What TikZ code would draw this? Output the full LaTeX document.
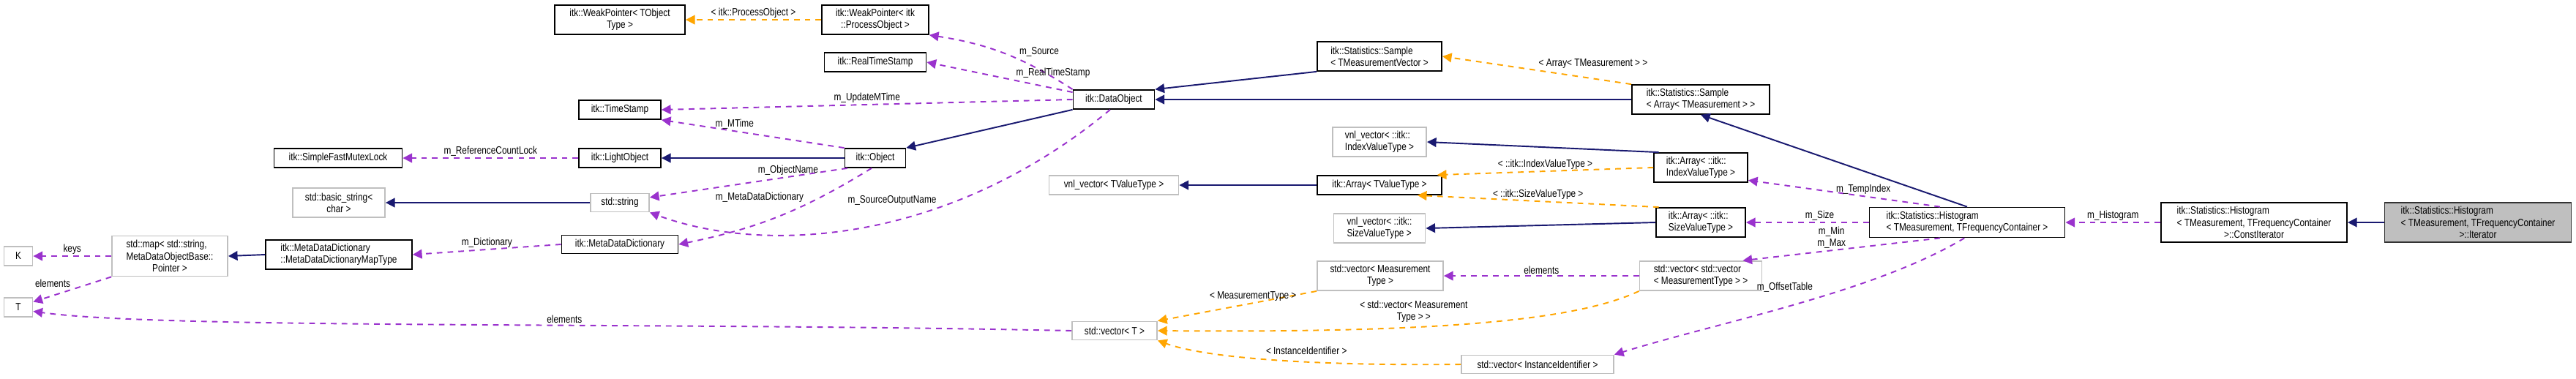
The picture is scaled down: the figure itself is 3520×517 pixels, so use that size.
\documentclass[tikz,border=0pt]{standalone}
\usepackage{fontspec}
\setmainfont{Liberation Sans}[FakeStretch=0.82]
\usetikzlibrary{arrows.meta}

\definecolor{inhcol}{HTML}{191970}
\definecolor{usecol}{HTML}{9A32CD}
\definecolor{tplcol}{HTML}{FFA500}
\definecolor{extcol}{HTML}{BFBFBF}

\tikzset{
  box/.style={draw, line width=0.5pt, inner sep=1pt, align=left,
    font=\fontsize{4.1}{4.6}\selectfont},
  cls/.style={box, draw=black},
  ext/.style={box, draw=extcol},
  cur/.style={box, draw=black!80, fill=extcol},
  inh/.style={draw=inhcol, line width=0.55pt, -{Triangle[length=3.6pt,width=3.6pt]}},
  use/.style={draw=usecol, line width=0.55pt, dashed, dash pattern=on 2.2pt off 2pt,
    -{Triangle[length=3.6pt,width=3.6pt]}},
  tpl/.style={draw=tplcol, line width=0.55pt, dashed, dash pattern=on 2.2pt off 2pt,
    -{Triangle[length=3.6pt,width=3.6pt]}},
  lbl/.style={font=\fontsize{4.1}{4.6}\selectfont, inner sep=0.5pt, align=center, text=black}
}

\begin{document}
\begin{tikzpicture}[x=0.01cm, y=-0.01cm]
  \useasboundingbox (0,0) rectangle (3520,517);

  % left part
  \node[cls, minimum width=1.78cm, minimum height=0.40cm] (wpobj) at (847,27) {itk::WeakPointer< TObject\\\hfil Type >};
  \node[cls, minimum width=1.46cm, minimum height=0.40cm] (wpproc) at (1196,27) {itk::WeakPointer< itk\\\hfil ::ProcessObject >};
  \node[cls, minimum width=1.39cm, minimum height=0.26cm] (rts) at (1196,85) {itk::RealTimeStamp};
  \node[cls, minimum width=1.12cm, minimum height=0.26cm] (ts) at (847,150) {itk::TimeStamp};
  \node[cls, minimum width=1.75cm, minimum height=0.26cm] (mutex) at (462,216) {itk::SimpleFastMutexLock};
  \node[cls, minimum width=1.12cm, minimum height=0.26cm] (light) at (847,216) {itk::LightObject};
  \node[cls, minimum width=0.83cm, minimum height=0.26cm] (object) at (1196,216) {itk::Object};
  \node[cls, minimum width=1.11cm, minimum height=0.26cm] (dataobj) at (1522,136) {itk::DataObject};
  \node[ext, minimum width=1.26cm, minimum height=0.40cm] (bstr) at (463,277) {std::basic\_string<\\\hfil char >};
  \node[ext, minimum width=0.80cm, minimum height=0.25cm] (str) at (847,277) {std::string};
  \node[cls, minimum width=1.59cm, minimum height=0.25cm] (mdd) at (847,334) {itk::MetaDataDictionary};
  \node[cls, minimum width=2.00cm, minimum height=0.40cm] (maptype) at (463,348) {itk::MetaDataDictionary\\::MetaDataDictionaryMapType};
  \node[ext, minimum width=1.58cm, minimum height=0.55cm] (stdmap) at (232,350) {std::map< std::string,\\\hfil MetaDataObjectBase::\hfil\\\hfil Pointer >};
  \node[ext, minimum width=0.39cm, minimum height=0.26cm] (K) at (25,350) {K};
  \node[ext, minimum width=0.39cm, minimum height=0.26cm] (T) at (25,420) {T};

  % middle part
  \node[cls, minimum width=1.70cm, minimum height=0.40cm] (sampvec) at (1885,77) {itk::Statistics::Sample\\< TMeasurementVector >};
  \node[cls, minimum width=1.88cm, minimum height=0.40cm] (samparr) at (2324,136) {itk::Statistics::Sample\\< Array< TMeasurement > >};
  \node[ext, minimum width=1.77cm, minimum height=0.26cm] (vnltv) at (1522,253) {vnl\_vector< TValueType >};
  \node[ext, minimum width=1.28cm, minimum height=0.40cm] (vnlidx) at (1885,194) {vnl\_vector< ::itk::\\IndexValueType >};
  \node[cls, minimum width=1.70cm, minimum height=0.26cm] (arrtv) at (1885,253) {itk::Array< TValueType >};
  \node[ext, minimum width=1.25cm, minimum height=0.40cm] (vnlsz) at (1885,312) {vnl\_vector< ::itk::\\SizeValueType >};
  \node[ext, minimum width=1.72cm, minimum height=0.40cm] (vecmt) at (1886,377) {std::vector< Measurement\\\hfil Type >};
  \node[cls, minimum width=1.28cm, minimum height=0.40cm] (arridx) at (2324,229) {itk::Array< ::itk::\\IndexValueType >};
  \node[cls, minimum width=1.22cm, minimum height=0.40cm] (arrsz) at (2324,304) {itk::Array< ::itk::\\SizeValueType >};
  \node[ext, minimum width=1.67cm, minimum height=0.40cm] (vecvec) at (2324,377) {std::vector< std::vector\\< MeasurementType > >};
  \node[ext, minimum width=1.16cm, minimum height=0.25cm] (vecT) at (1523,452) {std::vector< T >};
  \node[ext, minimum width=2.08cm, minimum height=0.25cm] (vecid) at (2101,498) {std::vector< InstanceIdentifier >};

  % right part
  \node[cls, minimum width=2.67cm, minimum height=0.41cm] (hist) at (2688,304) {itk::Statistics::Histogram\\< TMeasurement, TFrequencyContainer >};
  \node[cls, minimum width=2.54cm, minimum height=0.54cm] (citer) at (3080,304) {itk::Statistics::Histogram\\< TMeasurement, TFrequencyContainer\\\hfil >::ConstIterator\hfil};
  \node[cur, minimum width=2.55cm, minimum height=0.54cm] (iter) at (3386,304) {itk::Statistics::Histogram\\< TMeasurement, TFrequencyContainer\\\hfil >::Iterator\hfil};

  % inheritance
  \draw[inh] (dataobj.south west) -- (object.north east);
  \draw[inh] (object.west) -- (light.east);
  \draw[inh] (str.west) -- (bstr.east);
  \draw[inh] (maptype.west) -- (stdmap.east);
  \draw[inh] (sampvec.south west) -- (dataobj.north east);
  \draw[inh] (samparr.west |- dataobj.east) -- (dataobj.east);
  \draw[inh] (hist.north) -- (samparr.south);
  \draw[inh] (arridx.160) -- (vnlidx.east);
  \draw[inh] (arrsz.west) -- (vnlsz.east);
  \draw[inh] (arrtv.west) -- (vnltv.east);
  \draw[inh] (iter.west) -- (citer.east);

  % usage
  \draw[use] (dataobj.north west) to[bend right=12] node[lbl, pos=0.4, above right] {m\_Source} (wpproc.south east);
  \draw[use] (dataobj.170) -- node[lbl, above right, pos=0.4] {m\_RealTimeStamp} (rts.east);
  \draw[use] (dataobj.west) -- node[lbl, above] {m\_UpdateMTime} (ts.east);
  \draw[use] (object.north west) -- node[lbl, above, pos=0.6] {m\_MTime} (ts.south east);
  \draw[use] (light.west) -- node[lbl, above] {m\_ReferenceCountLock} (mutex.east);
  \draw[use] (object.200) -- node[lbl, above, pos=0.3] {m\_ObjectName} (str.10);
  \draw[use] (object.250) to[bend left=10] node[lbl, above left, pos=0.35] {m\_MetaDataDictionary} (mdd.east);
  \draw[use] (dataobj.250) .. controls (1300,330) and (1050,350) .. node[lbl, pos=0.35, above left] {m\_SourceOutputName} (str.south east);
  \draw[use] (mdd.west) -- node[lbl, above] {m\_Dictionary} (maptype.east);
  \draw[use] (stdmap.west) -- node[lbl, above] {keys} (K.east);
  \draw[use] (stdmap.south west) -- node[lbl, above left] {elements} (T.20);
  \draw[use] (vecT.west) .. controls (900,440) and (220,450) .. node[lbl, above, pos=0.4] {elements} (T.-15);
  \draw[use] (hist.150) -- node[lbl, above, pos=0.4] {m\_TempIndex} (arridx.-15);
  \draw[use] (hist.west) -- node[lbl, above, pos=0.4] {m\_Size} (arrsz.east);
  \draw[use] (hist.-150) -- node[lbl, pos=0.55, above=0pt] {m\_Min\\m\_Max} (vecvec.20);
  \draw[use] (hist.-100) .. controls (2560,400) and (2350,440) .. node[lbl, pos=0.35, left=14pt] {m\_OffsetTable} (vecid.north east);
  \draw[use] (citer.west) -- node[lbl, above] {m\_Histogram} (hist.east);
  \draw[use] (vecvec.west) -- node[lbl, above] {elements} (vecmt.east);

  % templates
  \draw[tpl] (wpproc.west) -- node[lbl, above] {< itk::ProcessObject >} (wpobj.east);
  \draw[tpl] (samparr.north west) -- node[lbl, above right, pos=0.5] {< Array< TMeasurement > >} (sampvec.east);
  \draw[tpl] (arridx.west) -- node[lbl, above] {< ::itk::IndexValueType >} (arrtv.10);
  \draw[tpl] (arrsz.160) -- node[lbl, above, pos=0.5] {< ::itk::SizeValueType >} (arrtv.-15);
  \draw[tpl] (vecmt.south west) -- node[lbl, above, pos=0.4] {< MeasurementType >} (vecT.north east);
  \draw[tpl] (vecvec.south west) .. controls (2150,440) and (1950,455) .. node[lbl, pos=0.62, above=1pt] {< std::vector< Measurement\\Type > >} (vecT.east);
  \draw[tpl] (vecid.west) .. controls (1800,500) and (1650,490) .. node[lbl, pos=0.4, above=2pt] {< InstanceIdentifier >} (vecT.south east);
\end{tikzpicture}
\end{document}
